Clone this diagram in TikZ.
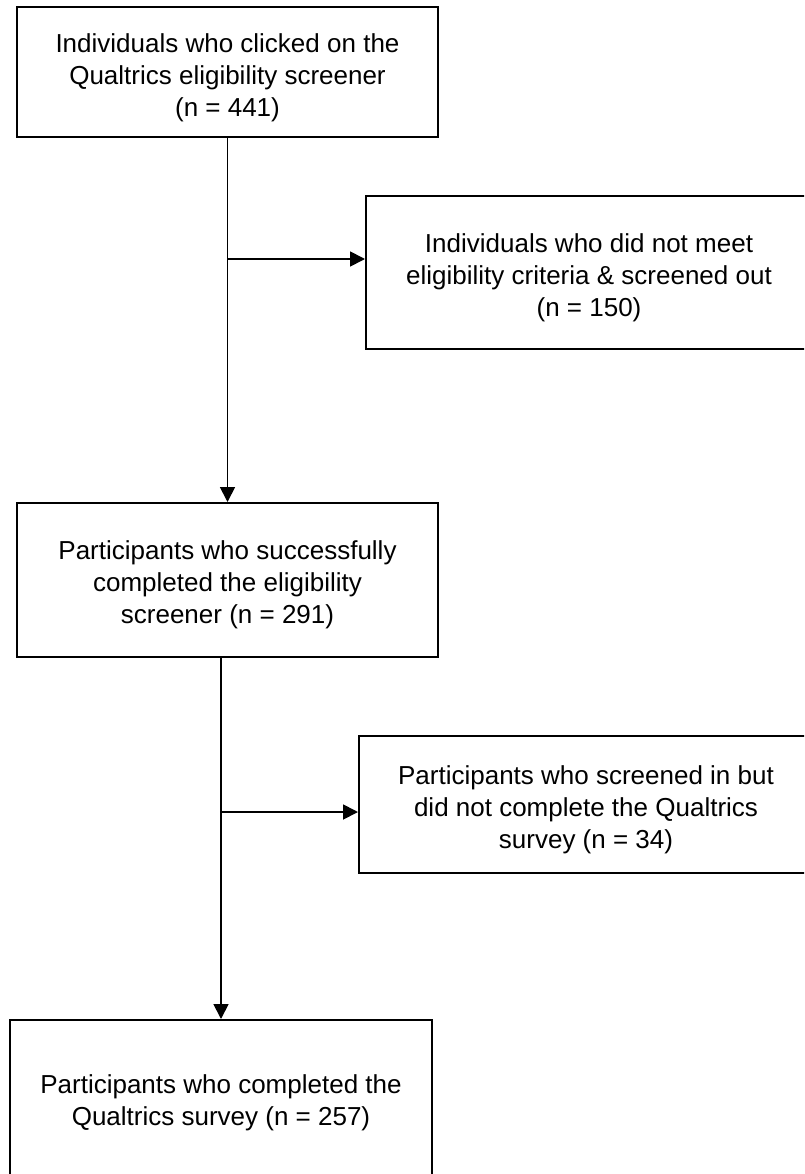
\documentclass[tikz,border=0pt]{standalone}
\usepackage{fontspec}
\setmainfont{Liberation Sans}
\usetikzlibrary{arrows.meta,calc}
\begin{document}
\begin{tikzpicture}[x=1pt,y=-1pt,
  box/.style={draw=black,line width=2pt,rectangle,inner sep=0pt},
  txt/.style={inner sep=0pt,align=center,font=\fontsize{26}{32}\selectfont},
  conn/.style={line width=1.8pt,draw=black},
  arr/.style={conn,-{Triangle[length=15pt,width=15pt]}}]
\useasboundingbox (0,0) rectangle (804,1174);
\clip (0,0) rectangle (804,1174);
\fill[white] (0,0) rectangle (804,1174);
\node[box,minimum width=421pt,minimum height=130pt] (b1) at (227.5,72) {};
\node[box,minimum width=446pt,minimum height=153pt] (b2) at (589,272.5) {};
\node[box,minimum width=421pt,minimum height=154pt] (b3) at (227.5,580) {};
\node[box,minimum width=454pt,minimum height=137pt] (b4) at (586,804.5) {};
\node[box,minimum width=422pt,minimum height=158pt] (b5) at (221,1099) {};
\node[txt] (t1) at ($(b1.center)+(0,6)$)
  {Individuals who clicked on the\\Qualtrics eligibility screener\\(n = 441)};
\node[txt] (t2) at ($(b2.center)+(0,5)$)
  {Individuals who did not meet\\eligibility criteria \& screened out\\(n = 150)};
\node[txt] (t3) at ($(b3.center)+(0,5)$)
  {Participants who successfully\\completed the eligibility\\screener (n = 291)};
\node[txt] (t4) at ($(b4.center)+(0,5)$)
  {Participants who screened in but\\did not complete the Qualtrics\\survey (n = 34)};
\node[txt] (t5) at ($(b5.center)+(0,4)$)
  {Participants who completed the\\Qualtrics survey (n = 257)};
\coordinate (j1) at (227.5,259);
\coordinate (j2) at (221,812);
\draw[arr] (b1.south) -- (b3.north);
\draw[arr] (j1) -- (j1 -| b2.west);
\draw[arr] (b5.north |- b3.south) -- (b5.north);
\draw[arr] (j2) -- (j2 -| b4.west);
\end{tikzpicture}
\end{document}
